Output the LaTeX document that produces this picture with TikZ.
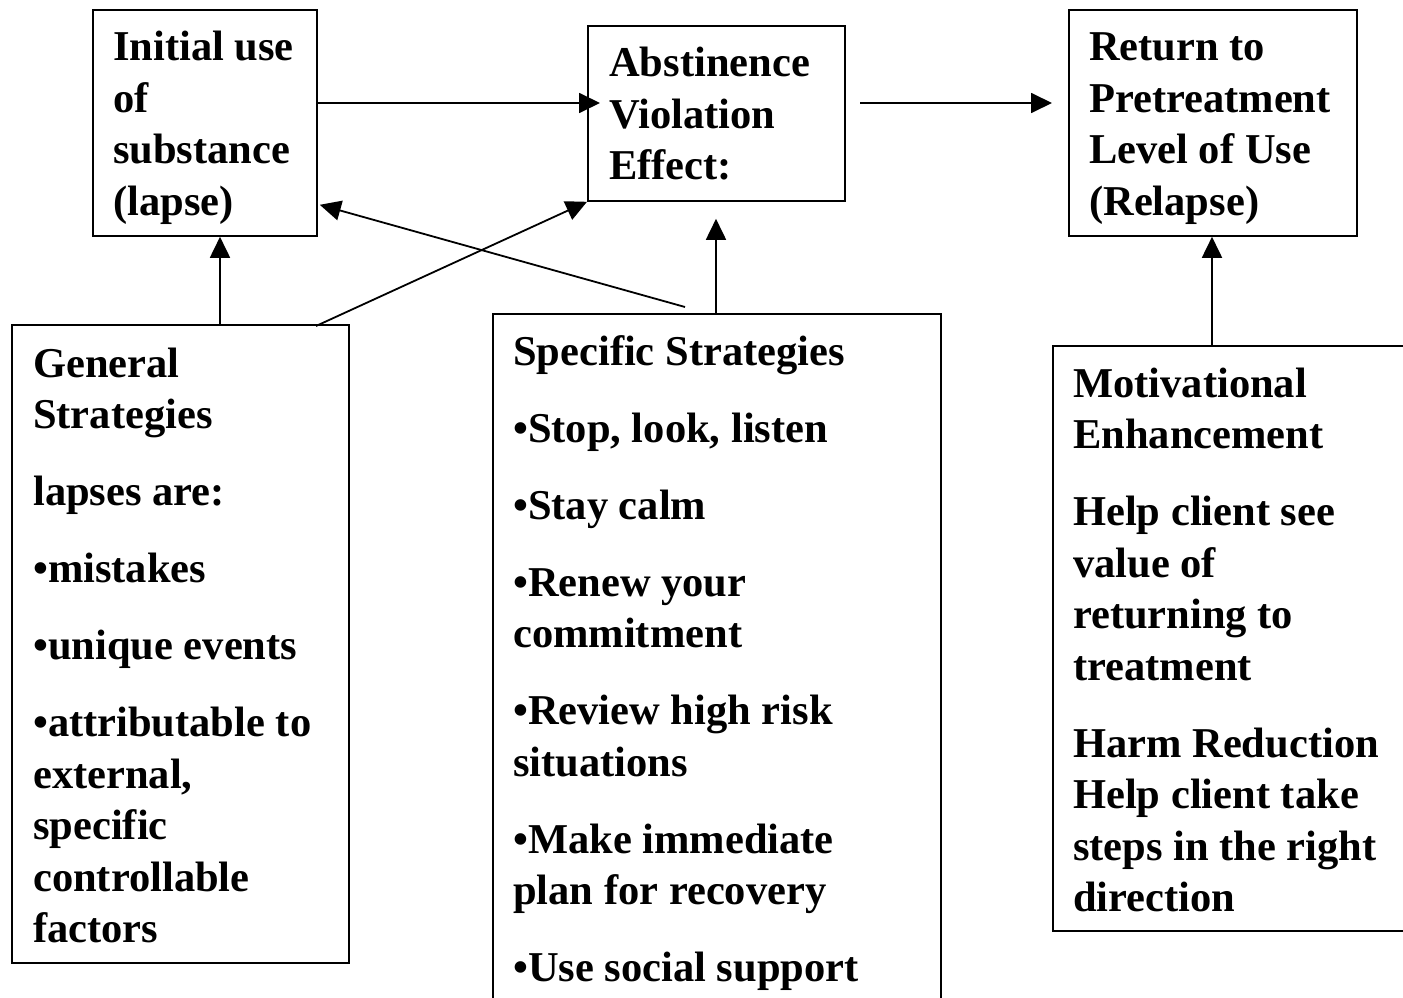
\documentclass[tikz,border=0pt]{standalone}
\usepackage{fontspec}
\setmainfont{Liberation Serif}
\usetikzlibrary{arrows.meta}
\begin{document}
\begin{tikzpicture}[x=1pt,y=-1pt,
 box/.style={draw,line width=1.8pt,inner sep=0pt,anchor=north west},
 txt/.style={inner sep=0pt,anchor=base west,text width=420pt,align=flush left,font=\fontsize{42.5}{51.5}\selectfont\bfseries},
 arr/.style={line width=1.8pt,-{Triangle[length=21pt,width=20pt]}}]
\useasboundingbox (0,0) rectangle (1403,998);
% boxes
\node[box,minimum width=224pt,minimum height=226pt] (A) at (92,9) {};
\node[box,minimum width=257pt,minimum height=175pt] (B) at (587,25) {};
\node[box,minimum width=288pt,minimum height=226pt] (C) at (1068,9) {};
\node[box,minimum width=337pt,minimum height=638pt] (D) at (11,324) {};
\node[box,minimum width=448pt,minimum height=720pt] (E) at (492,313) {};
\node[box,minimum width=380pt,minimum height=585pt] (F) at (1052,345) {};
% texts
\node[txt] (At) at (113,61) {Initial use\\of\\substance\\(lapse)};
\node[txt] (Bt) at (609,77) {Abstinence\\Violation\\Effect:};
\node[txt] (Ct) at (1089,61) {Return to\\Pretreatment\\Level of Use\\(Relapse)};
\node[txt] (Dt) at (33,377) {General\\Strategies\\[25.5pt]lapses are:\\[25.5pt]•mistakes\\[25.5pt]•unique events\\[25.5pt]•attributable to\\external,\\specific\\controllable\\factors};
\node[txt] (Et) at (513,365) {Specific Strategies\\[25.5pt]•Stop, look, listen\\[25.5pt]•Stay calm\\[25.5pt]•Renew your\\commitment\\[25.5pt]•Review high risk\\situations\\[25.5pt]•Make immediate\\plan for recovery\\[25.5pt]•Use social support};
\node[txt] (Ft) at (1073,397) {Motivational\\Enhancement\\[25.5pt]Help client see\\value of\\returning to\\treatment\\[25.5pt]Harm Reduction\\Help client take\\steps in the right\\direction};
% free ends
\coordinate (abStart) at ([yshift=-94pt]A.north east);
\coordinate (abEnd) at ([xshift=13pt]abStart -| B.west);
\coordinate (bcStart) at (860,103);
\coordinate (bcEnd) at (1052,103);
% connectors
\draw[arr] (abStart) -- (abEnd);
\draw[arr] (bcStart) -- (bcEnd);
\draw[arr] ([xshift=209pt]D.north west) -- ([xshift=128pt]A.south west);
\draw[arr] ([xshift=305pt,yshift=-2pt]D.north west) -- (B.south west);
\draw[arr] ([xshift=193pt,yshift=6pt]E.north west) -- ([yshift=32pt,xshift=2pt]A.south east);
\draw[arr] ([xshift=224pt]E.north west) -- ([xshift=129pt,yshift=-17pt]B.south west);
\draw[arr] ([xshift=160pt]F.north west) -- ([xshift=144pt]C.south west);
\end{tikzpicture}
\end{document}
